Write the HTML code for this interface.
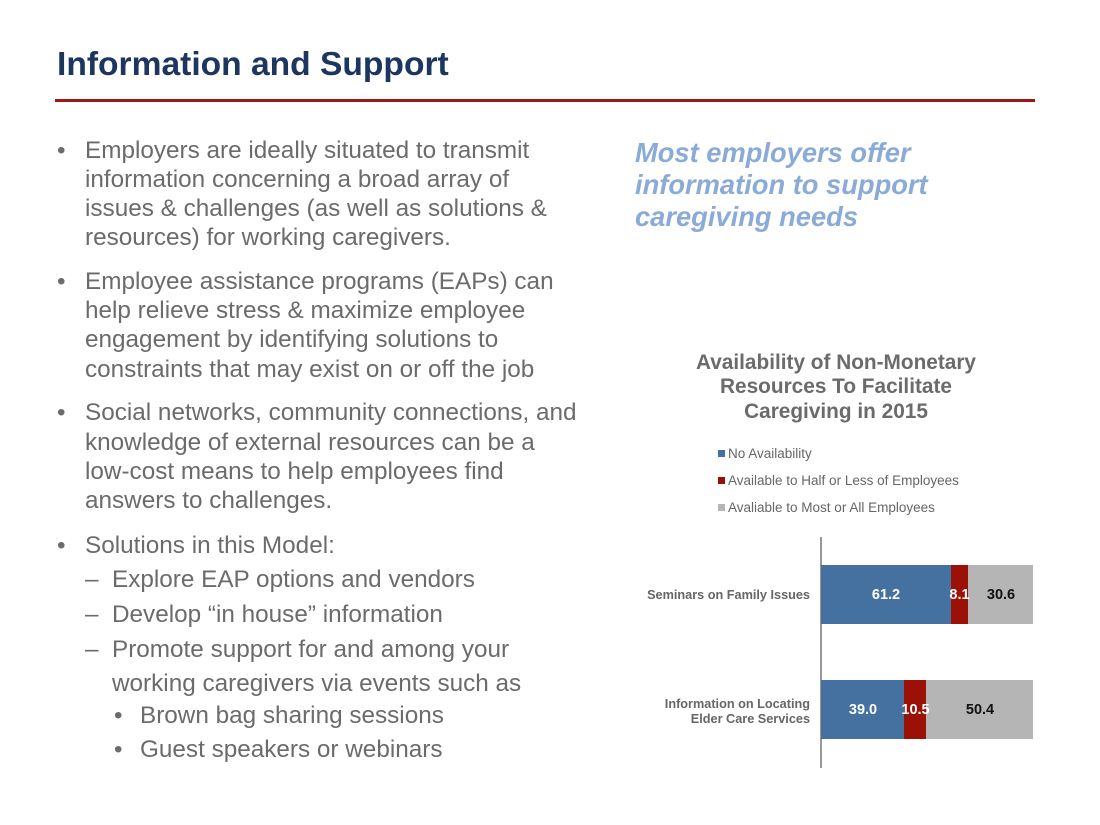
<!DOCTYPE html>
<html><head><meta charset="utf-8"><style>
body{margin:0;background:#fff;}
#p{position:relative;width:1100px;height:825px;overflow:hidden;font-family:"Liberation Sans",Arial,sans-serif;}
.a{position:absolute;white-space:nowrap;}
.t{font-size:24.3px;color:#6b6b6b;height:30px;line-height:30px;}
.h{font-size:27.3px;color:#8aabd8;font-weight:bold;font-style:italic;height:32px;line-height:32px;}
.ct{font-size:20.8px;color:#6b6b6b;font-weight:bold;width:340px;text-align:center;left:666px;height:24px;line-height:24px;}
.lg{font-size:13.5px;color:#666;left:718px;height:16px;line-height:16px;}
.lg i{display:inline-block;width:7px;height:7px;margin-right:3px;vertical-align:1px;}
.bl{font-size:12.7px;color:#666;font-weight:bold;text-align:right;width:200px;left:610px;line-height:15px;}
.v{font-size:14.5px;font-weight:bold;line-height:20px;height:20px;text-align:center;}
</style></head><body><div id="p">
<div class="a" style="left:57px;top:45px;font-size:33.6px;font-weight:bold;color:#1c3660;line-height:40px;">Information and Support</div>
<div class="a" style="left:55px;top:99px;width:980px;height:3px;background:#a01515;"></div>

<div class="a t" style="left:57px;top:136px">•</div>
<div class="a t" style="left:85px;top:136px">Employers are ideally situated to transmit</div>
<div class="a t" style="left:85px;top:165px">information concerning a broad array of</div>
<div class="a t" style="left:85px;top:194px">issues &amp; challenges (as well as solutions &amp;</div>
<div class="a t" style="left:85px;top:223px">resources) for working caregivers.</div>

<div class="a t" style="left:57px;top:267px">•</div>
<div class="a t" style="left:85px;top:267px">Employee assistance programs (EAPs) can</div>
<div class="a t" style="left:85px;top:296px">help relieve stress &amp; maximize employee</div>
<div class="a t" style="left:85px;top:325px">engagement by identifying solutions to</div>
<div class="a t" style="left:85px;top:355px">constraints that may exist on or off the job</div>

<div class="a t" style="left:57px;top:398px">•</div>
<div class="a t" style="left:85px;top:398px">Social networks, community connections, and</div>
<div class="a t" style="left:85px;top:428px">knowledge of external resources can be a</div>
<div class="a t" style="left:85px;top:457px">low-cost means to help employees find</div>
<div class="a t" style="left:85px;top:486px">answers to challenges.</div>

<div class="a t" style="left:57px;top:531px">•</div>
<div class="a t" style="left:85px;top:531px">Solutions in this Model:</div>
<div class="a t" style="left:85px;top:565px">–</div>
<div class="a t" style="left:112px;top:565px">Explore EAP options and vendors</div>
<div class="a t" style="left:85px;top:600px">–</div>
<div class="a t" style="left:112px;top:600px">Develop “in house” information</div>
<div class="a t" style="left:85px;top:635px">–</div>
<div class="a t" style="left:112px;top:635px">Promote support for and among your</div>
<div class="a t" style="left:112px;top:669px">working caregivers via events such as</div>
<div class="a t" style="left:114px;top:701px">•</div>
<div class="a t" style="left:140px;top:701px">Brown bag sharing sessions</div>
<div class="a t" style="left:114px;top:735px">•</div>
<div class="a t" style="left:140px;top:735px">Guest speakers or webinars</div>

<div class="a h" style="left:635px;top:137px">Most employers offer</div>
<div class="a h" style="left:635px;top:169px">information to support</div>
<div class="a h" style="left:635px;top:201px">caregiving needs</div>

<div class="a ct" style="top:351px">Availability of Non-Monetary</div>
<div class="a ct" style="top:375px">Resources To Facilitate</div>
<div class="a ct" style="top:400px">Caregiving in 2015</div>

<div class="a lg" style="top:446px"><i style="background:#4472a0"></i>No Availability</div>
<div class="a lg" style="top:473px"><i style="background:#9b0f06"></i>Available to Half or Less of Employees</div>
<div class="a lg" style="top:500px"><i style="background:#b5b5b5"></i>Avaliable to Most or All Employees</div>

<div class="a" style="left:820px;top:537px;width:1.5px;height:231px;background:#999"></div>
<div class="a" style="left:821px;top:565px;width:130px;height:59px;background:#44719f"></div>
<div class="a" style="left:951px;top:565px;width:17px;height:59px;background:#9b1106"></div>
<div class="a" style="left:968px;top:565px;width:65px;height:59px;background:#b5b5b5"></div>
<div class="a" style="left:821px;top:680px;width:83px;height:59px;background:#44719f"></div>
<div class="a" style="left:904px;top:680px;width:22px;height:59px;background:#9b1106"></div>
<div class="a" style="left:926px;top:680px;width:107px;height:59px;background:#b5b5b5"></div>

<div class="a v" style="left:856px;top:585px;width:60px;color:#fff">61.2</div>
<div class="a v" style="left:940px;top:585px;width:39px;color:#fff">8.1</div>
<div class="a v" style="left:980px;top:585px;width:42px;color:#111">30.6</div>
<div class="a v" style="left:833px;top:700px;width:60px;color:#fff">39.0</div>
<div class="a v" style="left:896px;top:700px;width:39px;color:#fff">10.5</div>
<div class="a v" style="left:955px;top:700px;width:50px;color:#111">50.4</div>

<div class="a bl" style="top:588px">Seminars on Family Issues</div>
<div class="a bl" style="top:697px">Information on Locating<br>Elder Care Services</div>
</div></body></html>
